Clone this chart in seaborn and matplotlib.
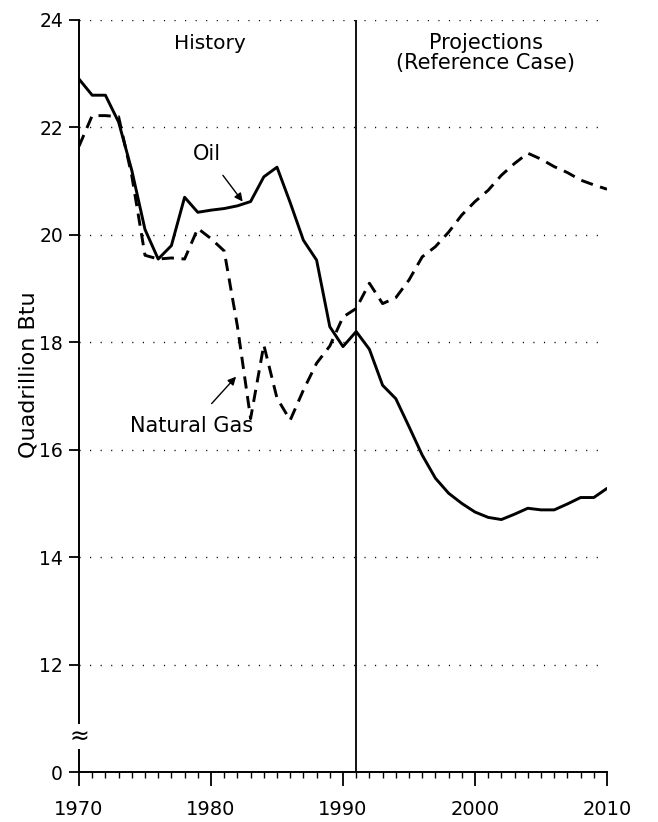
import numpy as np
import pandas as pd
import matplotlib
matplotlib.use("Agg")
import matplotlib.pyplot as plt
from matplotlib.ticker import MultipleLocator
import seaborn as sns

# values (quadrillion Btu)
years = list(range(1970, 2011))
oil = [22.9, 22.6, 22.6, 22.1, 21.2, 20.1, 19.55, 19.8, 20.7, 20.42,
       20.46, 20.49, 20.54, 20.62, 21.08, 21.26, 20.6, 19.9, 19.53, 18.29,
       17.92, 18.2, 17.87, 17.2, 16.95, 16.43, 15.9, 15.47, 15.19, 15.0,
       14.84, 14.74, 14.7, 14.8, 14.91, 14.88, 14.88, 14.99, 15.11, 15.11, 15.28]
gas = [21.65, 22.22, 22.22, 22.2, 21.1, 19.62, 19.55, 19.57, 19.55, 20.12,
       19.93, 19.7, 18.3, 16.58, 17.95, 16.96, 16.55, 17.11, 17.61, 17.93,
       18.47, 18.63, 19.1, 18.72, 18.83, 19.16, 19.59, 19.78, 20.05, 20.37,
       20.62, 20.83, 21.11, 21.33, 21.52, 21.41, 21.27, 21.16, 21.02, 20.93, 20.85]

# broken y axis: the "0" tick sits where 10 would be
ytick_pos = [10, 12, 14, 16, 18, 20, 22, 24]
ytick_lab = ["0", "12", "14", "16", "18", "20", "22", "24"]
xtick_pos = [1970, 1980, 1990, 2000, 2010]
split_year = 1991

sns.set_style("ticks")
plt.rcParams['font.family'] = ['DejaVu Sans']
plt.rcParams['text.color'] = 'k'
plt.rcParams['axes.labelcolor'] = 'k'

df = pd.DataFrame({'year': years, 'oil': oil, 'gas': gas})

fig = plt.figure(figsize=(6.58, 8.22), dpi=100)
ax = fig.add_axes([79/658, 1-772/822, 528/658, 752/822])

sns.lineplot(data=df, x='year', y='oil', color='k', lw=2.1, ax=ax)
sns.lineplot(data=df, x='year', y='gas', color='k', lw=2.1, ax=ax)
ax.lines[-1].set_dashes((4.2, 2.6))

ax.set_xlim(1970, 2010)
ax.set_ylim(10, 24)
ax.set_yticks(ytick_pos)
ax.set_yticklabels(ytick_lab)
ax.set_xticks(xtick_pos)
ax.xaxis.set_minor_locator(MultipleLocator(1))

for y in ytick_pos[1:]:
    ax.axhline(y, color='k', lw=1.0, dashes=(0.8, 6.8), zorder=1)
ax.axvline(split_year, color='k', lw=1.3)

sns.despine(ax=ax)
ax.spines['left'].set_linewidth(1.4)
ax.spines['bottom'].set_linewidth(1.4)
ax.spines['left'].set_color('k')
ax.spines['bottom'].set_color('k')
ax.tick_params(axis='x', which='major', direction='out', length=10, width=1.3,
               pad=10, labelsize=14, colors='k')
ax.tick_params(axis='x', which='minor', direction='out', length=4, width=1.0,
               colors='k')
ax.tick_params(axis='y', direction='out', length=7.5, width=1.3, pad=4,
               labelsize=13.5, colors='k')

ax.set_xlabel("")
ax.set_ylabel("Quadrillion Btu", fontsize=16, color='k')
ax.yaxis.set_label_coords(-0.076, 0.528)

# axis break mark
ax.text(1970, 10.66, "≈", ha='center', va='center', fontsize=17,
        clip_on=False, bbox=dict(fc='white', ec='none', pad=0.3))

ax.text(1979.9, 23.57, "History", ha='center', va='center', fontsize=14.5)
ax.text(2000.8, 23.57, "Projections", ha='center', va='center', fontsize=15)
ax.text(2000.8, 23.2, "(Reference Case)", ha='center', va='center', fontsize=15)

ax.annotate("Oil", xy=(1982.4, 20.62), xytext=(1979.7, 21.5),
            ha='center', va='center', fontsize=15,
            arrowprops=dict(arrowstyle='-|>', color='k', lw=1.0,
                            mutation_scale=12, shrinkA=7, shrinkB=0))
ax.annotate("Natural Gas", xy=(1981.9, 17.36), xytext=(1978.5, 16.44),
            ha='center', va='center', fontsize=15,
            arrowprops=dict(arrowstyle='-|>', color='k', lw=1.0,
                            mutation_scale=12, shrinkA=9, shrinkB=0))

fig.savefig("out.png", dpi=100)
